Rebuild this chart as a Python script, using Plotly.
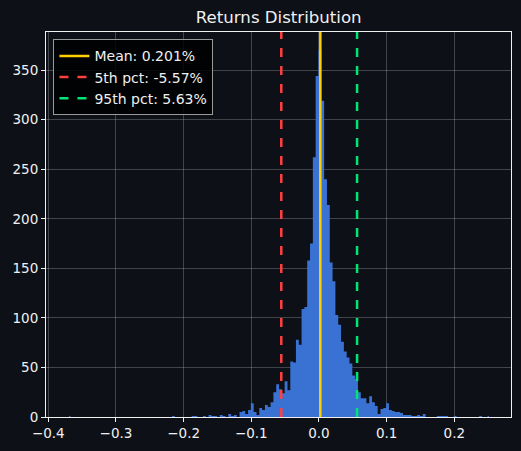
import plotly.graph_objects as go

# ── Theme ───────────────────────────────────────────────────────
BG_COLOR   = "#0d1117"
GRID_COLOR = "rgba(200,200,200,0.28)"
TEXT_COLOR = "#f0f0f0"
BAR_COLOR  = "#3a72d4"
FONT       = "DejaVu Sans"

# ── Data (histogram of daily returns, 150 bins) ─────────────────
BIN_START = -0.3693   # centre of first bin
BIN_WIDTH = 0.004165

counts = [
    1, 0, 0, 0, 0, 0, 0, 0, 0, 0,
    0, 0, 0, 0, 0, 0, 0, 0, 0, 0,
    0, 0, 0, 0, 0, 0, 0, 0, 0, 0,
    0, 0, 0, 0, 0, 0, 0, 1, 0, 0,
    0, 0, 0, 0, 1, 1, 0, 0, 1, 0,
    2, 1, 1, 0, 2, 1, 0, 3, 1, 2,
    0, 5, 6, 3, 7, 14, 5, 2, 9, 7,
    12, 10, 15, 25, 33, 28, 24, 36, 27, 56,
    55, 78, 73, 109, 111, 158, 175, 262, 344, 370,
    319, 240, 214, 156, 137, 103, 93, 76, 66, 60,
    54, 42, 38, 25, 19, 19, 14, 21, 15, 11,
    3, 8, 9, 14, 7, 6, 5, 5, 4, 2,
    2, 2, 1, 1, 2, 1, 3, 0, 0, 0,
    0, 1, 1, 1, 1, 0, 0, 1, 0, 0,
    0, 0, 0, 0, 0, 0, 1, 0, 0, 1,
]

mean_ret = 0.00201
p5_ret   = -0.0557
p95_ret  = 0.0563

stat_lines = [
    (mean_ret, f"Mean: {mean_ret*100:.3f}%",   "#ffd000", "solid"),
    (p5_ret,   f"5th pct: {p5_ret*100:.2f}%",  "#ff4040", "dash"),
    (p95_ret,  f"95th pct: {p95_ret*100:.2f}%", "#00e676", "dash"),
]

# ── Figure ──────────────────────────────────────────────────────
fig = go.Figure()
# histogram drawn as a filled step area (one polygon, so no seams between bins)
fig.add_trace(go.Scatter(
    x0=BIN_START,
    dx=BIN_WIDTH,
    y=counts,
    mode="lines",
    line=dict(shape="hvh", width=0, color=BAR_COLOR),
    fill="tozeroy",
    fillcolor=BAR_COLOR,
    showlegend=False,
    hoverinfo="skip",
    name="Returns",
))

for val, label, color, dash in stat_lines:
    fig.add_shape(
        type="line",
        x0=val, x1=val, xref="x",
        y0=0, y1=1, yref="paper",
        line=dict(color=color, width=2.5, dash=dash),
        showlegend=True,
        name=label,
    )

axis_style = dict(
    showgrid=True,
    gridcolor=GRID_COLOR,
    gridwidth=1,
    showline=True,
    linecolor=TEXT_COLOR,
    linewidth=1,
    mirror=True,
    ticks="outside",
    ticklen=4,
    tickcolor=TEXT_COLOR,
    tickfont=dict(color=TEXT_COLOR, size=13.5, family=FONT),
    zeroline=False,
    layer="above traces",
)

fig.update_layout(
    template="none",
    width=521,
    height=451,
    paper_bgcolor=BG_COLOR,
    plot_bgcolor=BG_COLOR,
    margin=dict(l=46, r=10, t=32, b=34),
    font=dict(family=FONT, color=TEXT_COLOR, size=13.5),
    title=dict(
        text="Returns Distribution",
        font=dict(size=16.6, color=TEXT_COLOR, family=FONT),
        x=0.535, xanchor="center",
        y=0.962, yanchor="middle",
    ),
    xaxis=dict(axis_style, range=[-0.4034, 0.2838], dtick=0.1, tickformat=".1f"),
    yaxis=dict(axis_style, range=[0, 388.5], dtick=50),
    legend=dict(
        x=0.016, y=0.981,
        xanchor="left", yanchor="top",
        bgcolor="rgba(0,0,0,0.85)",
        bordercolor="#9a9a9a",
        borderwidth=1,
        font=dict(color=TEXT_COLOR, size=14, family=FONT),
    ),
)

# drop the default page margin so the figure sits flush in the window
fig.write_html(
    "out.html",
    config={"displayModeBar": False},
    post_script="document.body.style.margin='0';",
)
